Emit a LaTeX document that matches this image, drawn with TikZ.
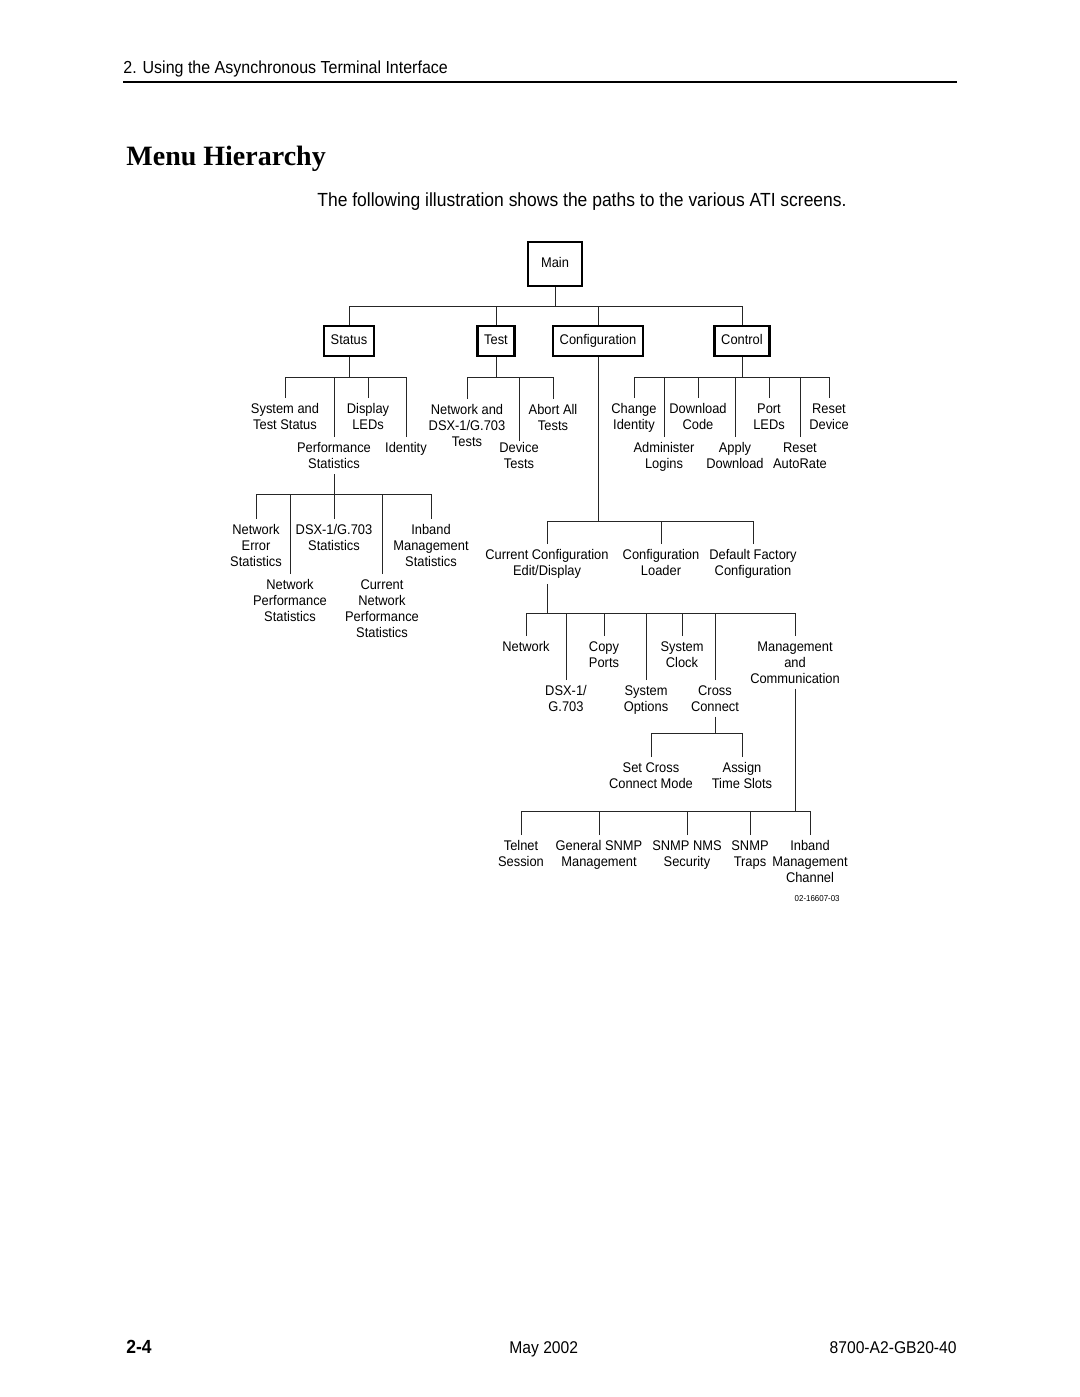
\documentclass[tikz,border=0pt]{standalone}
\usepackage{fontspec}
\newfontfamily\diafont[FakeStretch=0.92]{Liberation Sans}
\newfontfamily\titlefont{Liberation Serif}

\begin{document}
\begin{tikzpicture}[x=0.5pt,y=-0.5pt,
    menubox/.style={draw,line width=1.2pt,inner xsep=3.4pt,minimum height=15pt,
        text height=5.2pt,text depth=1.5pt,font=\diafont\fontsize{7}{8}\selectfont},
    leaf/.style={align=center,anchor=north,inner xsep=1pt,inner ysep=2.5pt,
        font=\diafont\fontsize{7}{8}\selectfont},
    link/.style={line width=0.5pt,black!85}]

    % page size
    \useasboundingbox (0,0) rectangle (1080,1397);

    % page header
    \node[anchor=base west,inner sep=0pt,font=\diafont\fontsize{8.7}{10}\selectfont] (hdr) at (123,73)
        {2. Using the Asynchronous Terminal Interface};
    \draw[line width=1.3pt] (123,82) -- (957,82);

    \node[anchor=base west,inner sep=0pt,font=\titlefont\bfseries\fontsize{14}{16}\selectfont] (title) at (126,165)
        {Menu Hierarchy};
    \node[anchor=base west,inner sep=0pt,font=\diafont\fontsize{9.5}{11}\selectfont] (intro) at (317,206)
        {The following illustration shows the paths to the various ATI screens.};

    % main menu and the four top menus
    \node[menubox,minimum width=27pt,minimum height=22pt] (main) at (555,264) {Main};
    \node[menubox] (status) at (349,341) {Status};
    \node[menubox] (test) at (496,341) {Test};
    \node[menubox] (config) at (598,341) {Configuration};
    \node[menubox] (control) at (742,341) {Control};

    \coordinate (mainbar) at (555,306);
    \draw[link] (main.south) -- (main.south |- mainbar);
    \draw[link] (status.north |- mainbar) -- (control.north |- mainbar);
    \foreach \n in {status,test,config,control}
        \draw[link] (\n.north) -- (\n.north |- mainbar);

    % status
    \node[leaf] (sysstat) at (285,398) {System and\\Test Status};
    \node[leaf] (perfstat) at (334,437) {Performance\\Statistics};
    \node[leaf] (displeds) at (368,398) {Display\\LEDs};
    \node[leaf] (identity) at (406,437) {Identity};

    \coordinate (statbar) at (349,377);
    \draw[link] (status.south) -- (status.south |- statbar);
    \draw[link] (sysstat.north |- statbar) -- (identity.north |- statbar);
    \foreach \n in {sysstat,perfstat,displeds,identity}
        \draw[link] (\n.north) -- (\n.north |- statbar);

    % performance statistics
    \node[leaf] (neterr) at (256,519) {Network\\Error\\Statistics};
    \node[leaf] (netperf) at (290,574) {Network\\Performance\\Statistics};
    \node[leaf] (dsxstat) at (334,519) {DSX-1/G.703\\Statistics};
    \node[leaf] (curnetperf) at (382,574) {Current\\Network\\Performance\\Statistics};
    \node[leaf] (inbstat) at (431,519) {Inband\\Management\\Statistics};

    \coordinate (perfbar) at (334,494);
    \draw[link] (perfstat.south) -- (perfstat.south |- perfbar);
    \draw[link] (neterr.north |- perfbar) -- (inbstat.north |- perfbar);
    \foreach \n in {neterr,netperf,dsxstat,curnetperf,inbstat}
        \draw[link] (\n.north) -- (\n.north |- perfbar);

    % test
    \node[leaf] (nettests) at (467,399) {Network and\\DSX-1/G.703\\Tests};
    \node[leaf,inner ysep=0.5pt] (devtests) at (519,441) {Device\\Tests};
    \node[leaf] (aborttests) at (553,399) {Abort All\\Tests};

    \coordinate (testbar) at (496,377);
    \draw[link] (test.south) -- (test.south |- testbar);
    \draw[link] (nettests.north |- testbar) -- (aborttests.north |- testbar);
    \foreach \n in {nettests,devtests,aborttests}
        \draw[link] (\n.north) -- (\n.north |- testbar);

    % control
    \node[leaf] (changeid) at (634,398) {Change\\Identity};
    \node[leaf] (adminlog) at (664,437) {Administer\\Logins};
    \node[leaf] (dlcode) at (698,398) {Download\\Code};
    \node[leaf] (applydl) at (735,437) {Apply\\Download};
    \node[leaf] (portleds) at (769,398) {Port\\LEDs};
    \node[leaf] (resetar) at (800,437) {Reset\\AutoRate};
    \node[leaf] (resetdev) at (829,398) {Reset\\Device};

    \coordinate (ctrlbar) at (742,377);
    \draw[link] (control.south) -- (control.south |- ctrlbar);
    \draw[link] (changeid.north |- ctrlbar) -- (resetdev.north |- ctrlbar);
    \foreach \n in {changeid,adminlog,dlcode,applydl,portleds,resetar,resetdev}
        \draw[link] (\n.north) -- (\n.north |- ctrlbar);

    % configuration
    \node[leaf] (curconf) at (547,544) {Current Configuration\\Edit/Display};
    \node[leaf] (confload) at (661,544) {Configuration\\Loader};
    \node[leaf] (deffact) at (753,544) {Default Factory\\Configuration};

    \coordinate (confbar) at (598,521);
    \draw[link] (config.south) -- (config.south |- confbar);
    \draw[link] (curconf.north |- confbar) -- (deffact.north |- confbar);
    \foreach \n in {curconf,confload,deffact}
        \draw[link] (\n.north) -- (\n.north |- confbar);

    % current configuration
    \node[leaf] (network) at (526,636) {Network};
    \node[leaf] (dsx) at (566,680) {DSX-1/\\G.703};
    \node[leaf] (copyports) at (604,636) {Copy\\Ports};
    \node[leaf] (sysopts) at (646,680) {System\\Options};
    \node[leaf] (sysclock) at (682,636) {System\\Clock};
    \node[leaf] (crossconn) at (715,680) {Cross\\Connect};
    \node[leaf] (mgmt) at (795,636) {Management\\and\\Communication};

    \coordinate (curbar) at (547,613);
    \draw[link] (curconf.south) -- (curconf.south |- curbar);
    \draw[link] (network.north |- curbar) -- (mgmt.north |- curbar);
    \foreach \n in {network,dsx,copyports,sysopts,sysclock,crossconn,mgmt}
        \draw[link] (\n.north) -- (\n.north |- curbar);

    % cross connect
    \node[leaf] (setcross) at (651,757) {Set Cross\\Connect Mode};
    \node[leaf] (assign) at (742,757) {Assign\\Time Slots};

    \coordinate (crossbar) at (715,733);
    \draw[link] (crossconn.south) -- (crossconn.south |- crossbar);
    \draw[link] (setcross.north |- crossbar) -- (assign.north |- crossbar);
    \foreach \n in {setcross,assign}
        \draw[link] (\n.north) -- (\n.north |- crossbar);

    % management and communication
    \node[leaf] (telnet) at (521,835) {Telnet\\Session};
    \node[leaf] (gensnmp) at (599,835) {General SNMP\\Management};
    \node[leaf] (snmpnms) at (687,835) {SNMP NMS\\Security};
    \node[leaf] (snmptraps) at (750,835) {SNMP\\Traps};
    \node[leaf] (inbchan) at (810,835) {Inband\\Management\\Channel};

    \coordinate (mgmtbar) at (795,811);
    \draw[link] (mgmt.south) -- (mgmt.south |- mgmtbar);
    \draw[link] (telnet.north |- mgmtbar) -- (inbchan.north |- mgmtbar);
    \foreach \n in {telnet,gensnmp,snmpnms,snmptraps,inbchan}
        \draw[link] (\n.north) -- (\n.north |- mgmtbar);

    \node[anchor=base east,inner sep=0pt,font=\diafont\fontsize{4.3}{5}\selectfont] (figno) at (840,901) {02-16607-03};

    % page footer
    \node[anchor=base west,inner sep=0pt,font=\diafont\bfseries\fontsize{9.5}{11}\selectfont] (pageno) at (126,1353) {2-4};
    \node[anchor=base west,inner sep=0pt,font=\diafont\fontsize{8.5}{10}\selectfont] (date) at (509,1353) {May 2002};
    \node[anchor=base east,inner sep=0pt,font=\diafont\fontsize{8.5}{10}\selectfont] (docno) at (957,1353) {8700-A2-GB20-40};

\end{tikzpicture}
\end{document}
